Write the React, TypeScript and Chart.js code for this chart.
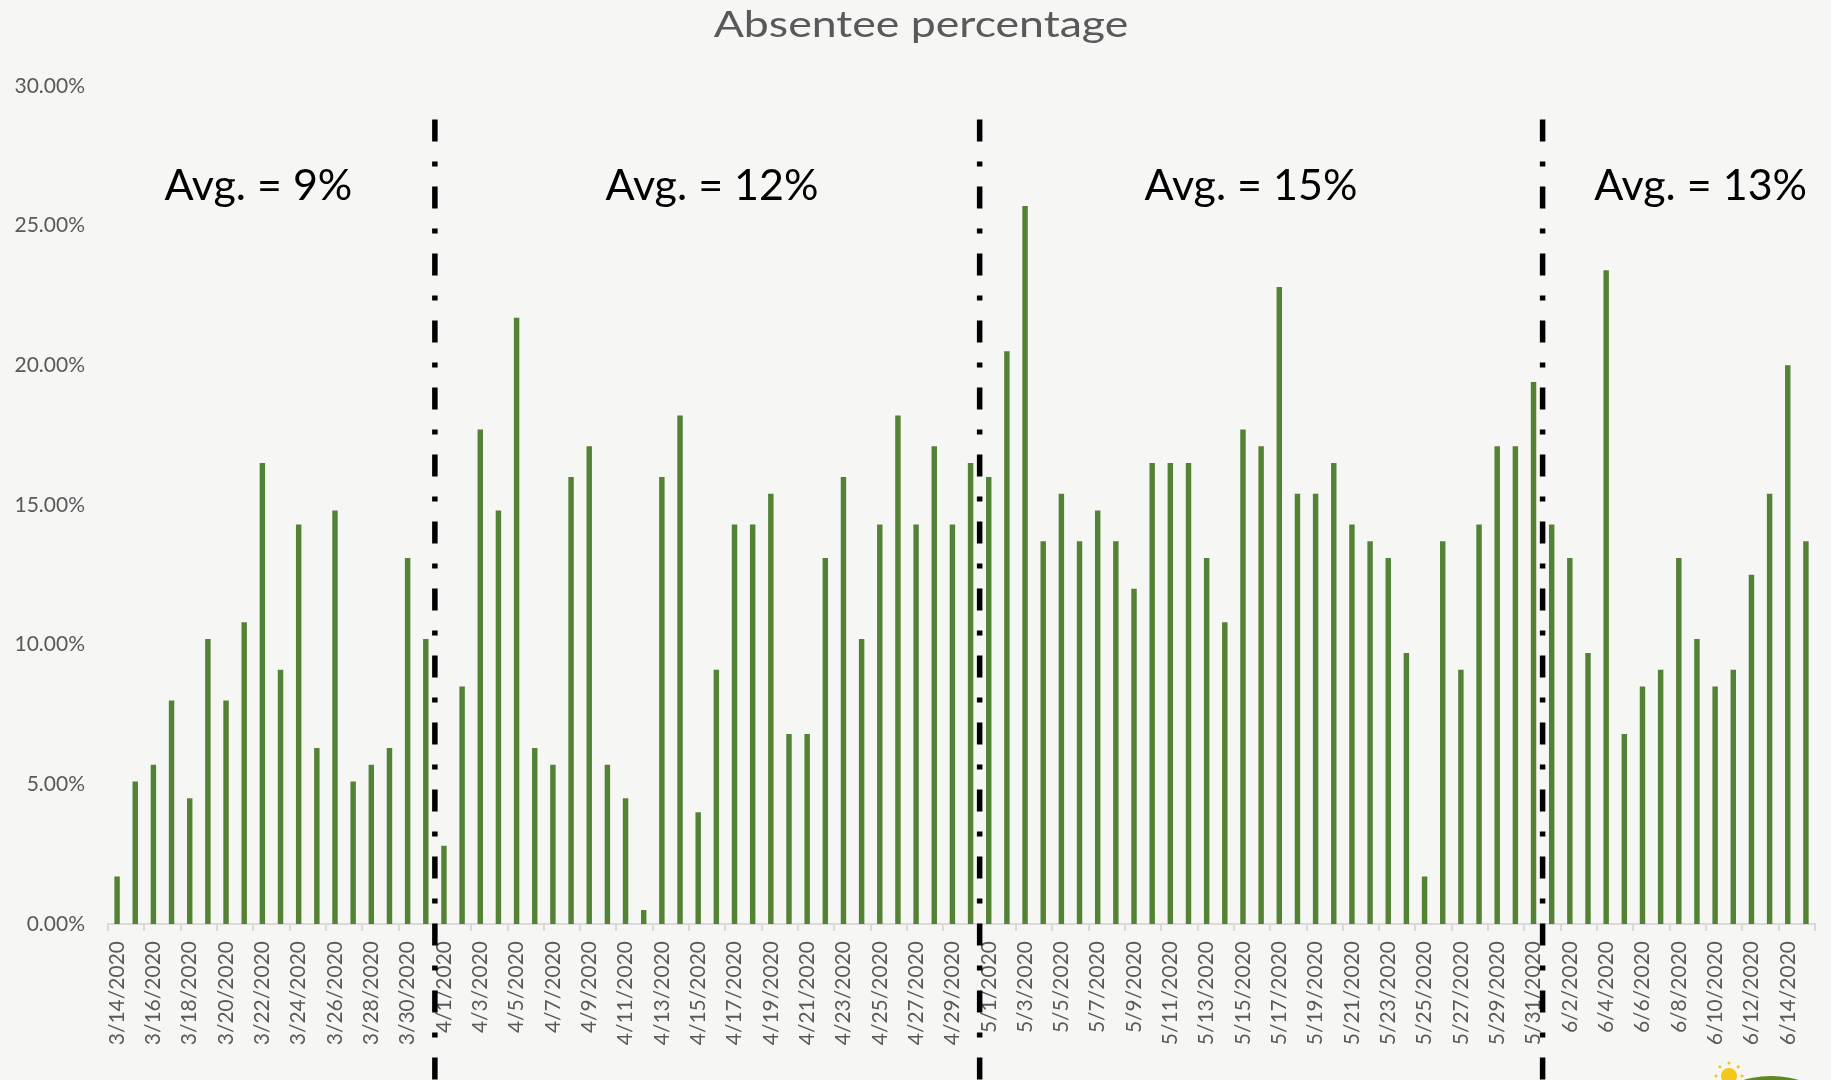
import React, { useEffect, useRef } from 'react';
import { Chart, registerables } from 'chart.js';

Chart.register(...registerables);

// ---- Data ----
const marchDates = ['3/14/2020', '3/15/2020', '3/16/2020', '3/17/2020', '3/18/2020', '3/19/2020', '3/20/2020', '3/21/2020', '3/22/2020', '3/23/2020', '3/24/2020', '3/25/2020', '3/26/2020', '3/27/2020', '3/28/2020', '3/29/2020', '3/30/2020', '3/31/2020'];
const marchValues = [1.7, 5.1, 5.7, 8.0, 4.5, 10.2, 8.0, 10.8, 16.5, 9.1, 14.3, 6.3, 14.8, 5.1, 5.7, 6.3, 13.1, 10.2];

const aprilDates = ['4/1/2020', '4/2/2020', '4/3/2020', '4/4/2020', '4/5/2020', '4/6/2020', '4/7/2020', '4/8/2020', '4/9/2020', '4/10/2020', '4/11/2020', '4/12/2020', '4/13/2020', '4/14/2020', '4/15/2020', '4/16/2020', '4/17/2020', '4/18/2020', '4/19/2020', '4/20/2020', '4/21/2020', '4/22/2020', '4/23/2020', '4/24/2020', '4/25/2020', '4/26/2020', '4/27/2020', '4/28/2020', '4/29/2020', '4/30/2020'];
const aprilValues = [2.8, 8.5, 17.7, 14.8, 21.7, 6.3, 5.7, 16.0, 17.1, 5.7, 4.5, 0.5, 16.0, 18.2, 4.0, 9.1, 14.3, 14.3, 15.4, 6.8, 6.8, 13.1, 16.0, 10.2, 14.3, 18.2, 14.3, 17.1, 14.3, 16.5];

const mayDates = ['5/1/2020', '5/2/2020', '5/3/2020', '5/4/2020', '5/5/2020', '5/6/2020', '5/7/2020', '5/8/2020', '5/9/2020', '5/10/2020', '5/11/2020', '5/12/2020', '5/13/2020', '5/14/2020', '5/15/2020', '5/16/2020', '5/17/2020', '5/18/2020', '5/19/2020', '5/20/2020', '5/21/2020', '5/22/2020', '5/23/2020', '5/24/2020', '5/25/2020', '5/26/2020', '5/27/2020', '5/28/2020', '5/29/2020', '5/30/2020', '5/31/2020'];
const mayValues = [16.0, 20.5, 25.7, 13.7, 15.4, 13.7, 14.8, 13.7, 12.0, 16.5, 16.5, 16.5, 13.1, 10.8, 17.7, 17.1, 22.8, 15.4, 15.4, 16.5, 14.3, 13.7, 13.1, 9.7, 1.7, 13.7, 9.1, 14.3, 17.1, 17.1, 19.4];

const juneDates = ['6/1/2020', '6/2/2020', '6/3/2020', '6/4/2020', '6/5/2020', '6/6/2020', '6/7/2020', '6/8/2020', '6/9/2020', '6/10/2020', '6/11/2020', '6/12/2020', '6/13/2020', '6/14/2020', '6/15/2020'];
const juneValues = [14.3, 13.1, 9.7, 23.4, 6.8, 8.5, 9.1, 13.1, 10.2, 8.5, 9.1, 12.5, 15.4, 20.0, 13.7];

const chartTitle = 'Absentee percentage';
const periodAverageLabels = ['Avg. = 9%', 'Avg. = 12%', 'Avg. = 15%', 'Avg. = 13%'];
const yTickValues = [0, 5, 10, 15, 20, 25, 30];

const allDates = [...marchDates, ...aprilDates, ...mayDates, ...juneDates];
const allValues = [...marchValues, ...aprilValues, ...mayValues, ...juneValues];
const periodLengths = [marchDates.length, aprilDates.length, mayDates.length, juneDates.length];

const backgroundPlugin = {
  id: 'paperBackground',
  beforeDraw(chart: any) {
    const { ctx, width, height } = chart;
    ctx.save();
    ctx.fillStyle = '#f6f6f5';
    ctx.fillRect(0, 0, width, height);
    // small logo fragment at the bottom-right corner
    ctx.fillStyle = '#f2c81a';
    ctx.beginPath();
    ctx.arc(width - 102, height - 4, 8, 0, Math.PI * 2);
    ctx.fill();
    for (let k = 0; k < 5; k++) {
      const a = Math.PI + (k * Math.PI) / 4;
      ctx.beginPath();
      ctx.arc(width - 102 + Math.cos(a) * 13, height - 4 + Math.sin(a) * 13, 1.6, 0, Math.PI * 2);
      ctx.fill();
    }
    ctx.fillStyle = '#5d8a1f';
    ctx.beginPath();
    ctx.ellipse(width - 60, height + 18, 48, 22, 0, 0, Math.PI * 2);
    ctx.fill();
    ctx.restore();
  },
};

const overlayPlugin = {
  id: 'periods',
  afterDraw(chart: any, _args: any, opts: any) {
    const xs = chart.scales.x;
    const ys = chart.scales.y;
    const ctx = chart.ctx;
    ctx.save();
    // title (drawn slightly stretched horizontally like the reference)
    ctx.fillStyle = '#595959';
    ctx.font = '37.5px Lato, "Open Sans", sans-serif';
    ctx.textAlign = 'center';
    ctx.textBaseline = 'alphabetic';
    ctx.save();
    ctx.translate(opts.titleX, opts.titleBaseline);
    ctx.scale(opts.titleStretch, 1);
    ctx.fillText(chartTitle, 0, 0);
    ctx.restore();

    // separators between periods
    let cum = 0;
    const boundaries: number[] = [];
    for (let i = 0; i < periodLengths.length - 1; i++) {
      cum += periodLengths[i];
      boundaries.push(cum);
    }
    ctx.strokeStyle = '#000000';
    ctx.lineWidth = 5.5;
    ctx.setLineDash([22, 20, 5, 20]);
    for (const b of boundaries) {
      const px = (xs.getPixelForValue(b - 1) + xs.getPixelForValue(b)) / 2;
      ctx.beginPath();
      ctx.moveTo(px, ys.getPixelForValue(opts.lineTop));
      ctx.lineTo(px, chart.height);
      ctx.stroke();
    }
    ctx.setLineDash([]);
    // average labels
    ctx.fillStyle = '#000000';
    ctx.font = '43px Lato, "Open Sans", sans-serif';
    ctx.textAlign = 'center';
    ctx.textBaseline = 'middle';
    periodAverageLabels.forEach((t, i) => {
      ctx.fillText(t, xs.getPixelForValue(opts.anchors[i]), ys.getPixelForValue(opts.labelY));
    });
    ctx.restore();
  },
};

export default function App() {
  const canvasRef = useRef<HTMLCanvasElement | null>(null);

  useEffect(() => {
    if (!canvasRef.current) return;
    const chart = new Chart(canvasRef.current, {
      type: 'bar',
      data: {
        labels: allDates,
        datasets: [
          {
            label: chartTitle,
            data: allValues,
            backgroundColor: '#548235',
            borderWidth: 0,
            barPercentage: 0.3,
            categoryPercentage: 1,
          },
        ],
      },
      plugins: [backgroundPlugin, overlayPlugin],
      options: {
        responsive: false,
        animation: false,
        devicePixelRatio: 1,
        layout: { padding: { left: 0, right: 16, top: 86, bottom: 0 } },
        plugins: {
          legend: { display: false },
          tooltip: { enabled: false },
          title: { display: false },
          periods: {
            lineTop: 28.8,
            labelY: 26.4,
            anchors: [7.78, 32.76, 62.44, 87.2],
            titleX: 921,
            titleBaseline: 37,
            titleStretch: 1.19,
          },
        } as any,
        scales: {
          x: {
            type: 'category',
            offset: true,
            grid: {
              display: true,
              drawOnChartArea: false,
              drawTicks: true,
              tickLength: 7,
              lineWidth: 2,
              offset: true,
              color: (c: any) => (c.index === undefined || c.index % 2 === 0 ? '#d9d9d9' : 'rgba(0,0,0,0)'),
            },
            border: { display: true, color: '#d9d9d9', width: 2 },
            ticks: {
              autoSkip: false,
              minRotation: 90,
              maxRotation: 90,
              padding: 10,
              color: '#595959',
              font: { family: 'Lato, "Open Sans", sans-serif', size: 21 },
              callback: (_v: any, i: number) => (i % 2 === 0 ? allDates[i] : ''),
            },
            afterFit: (scale: any) => {
              scale.height = 156;
              scale.paddingLeft = 0;
              scale.paddingRight = 0;
            },
          },
          y: {
            min: 0,
            max: 30,
            grid: { display: false, drawTicks: false },
            border: { display: false },
            afterBuildTicks: (scale: any) => {
              scale.ticks = yTickValues.map((v) => ({ value: v }));
            },
            ticks: {
              padding: 23,
              color: '#595959',
              font: { family: 'Lato, "Open Sans", sans-serif', size: 21 },
              callback: (v: any) => Number(v).toFixed(2) + '%',
            },
            afterFit: (scale: any) => {
              scale.width = 108;
            },
          },
        },
      } as any,
    });
    return () => chart.destroy();
  }, []);

  return (
    <div style={{ position: 'fixed', left: 0, top: 0, width: 1831, height: 1080 }}>
      <canvas ref={canvasRef} width={1831} height={1080} style={{ width: 1831, height: 1080, display: 'block' }} />
    </div>
  );
}
